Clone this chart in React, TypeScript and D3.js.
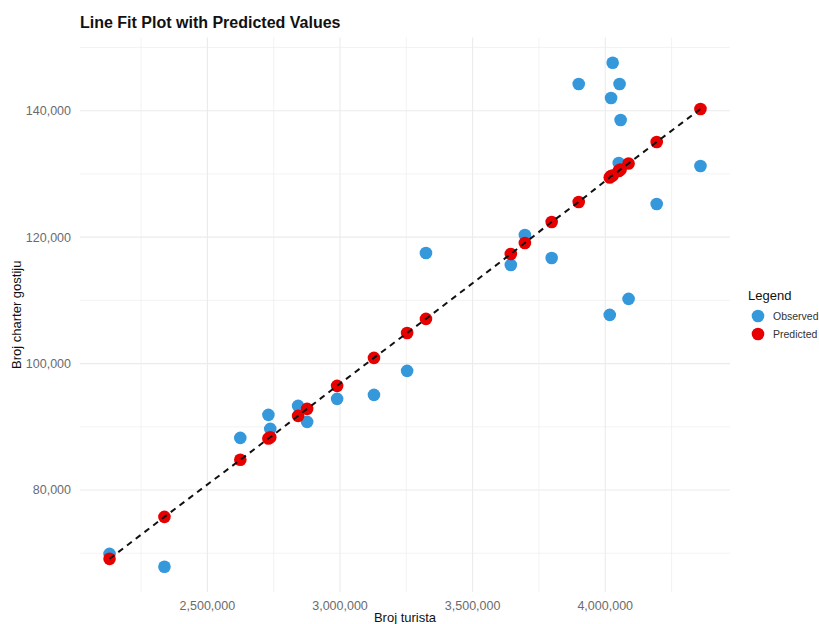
import * as React from 'react';
import * as d3 from 'd3';

// Broj turista (x) with observed and predicted charter guests
const turisti = [
  2131000, 2338000, 2624000, 2730000, 2737000, 2842000, 2876000, 2989000,
  3128000, 3253000, 3324000, 3644000, 3697000, 3798000, 3900000, 4017000,
  4022000, 4028000, 4051000, 4054000, 4058000, 4088000, 4194000, 4359000,
];
const observed = [
  69900, 67860, 88250, 91890, 89680, 93310, 90780, 94420,
  95050, 98850, 117500, 115600, 120350, 116710, 144220, 107700,
  142010, 147590, 131730, 144220, 138530, 110230, 125250, 131260,
];
const predicted = [
  69120, 75760, 84780, 88150, 88350, 91730, 92840, 96480,
  100900, 104850, 107070, 117340, 119080, 122400, 125570, 129440,
  129680, 129750, 130470, 130620, 130700, 131650, 135050, 140270,
];
const xTicks = [2500000, 3000000, 3500000, 4000000];
const xMinor = [2250000, 2750000, 3250000, 3750000, 4250000];
const yTicks = [80000, 100000, 120000, 140000];
const yMinor = [70000, 90000, 110000, 130000, 150000];

const W = 819;
const H = 624;
const panel = {left: 80, right: 730, top: 37.5, bottom: 592};
const font = '"Liberation Sans", Arial, sans-serif';
const blue = '#3498db';
const red = '#e60000';

function expand([lo, hi]: number[]) {
  const pad = (hi - lo) * 0.05;
  return [lo - pad, hi + pad];
}

export default function App() {
  const fmt = d3.format(',');
  const x = d3.scaleLinear()
    .domain(expand(d3.extent(turisti) as number[]))
    .range([panel.left, panel.right]);
  const y = d3.scaleLinear()
    .domain(expand(d3.extent([...observed, ...predicted]) as number[]))
    .range([panel.bottom, panel.top]);

  const pts = turisti.map((t, i) => ({t, obs: observed[i], pred: predicted[i]}));
  const line = d3.line<{t: number; pred: number}>()
    .x(d => x(d.t))
    .y(d => y(d.pred));

  return (
    <svg width={W} height={H} style={{position: 'absolute', left: 0, top: 0, background: '#fff'}}
      fontFamily={font}>
      <rect width={W} height={H} fill="#fff" />
      <g>
        {xMinor.map(v => (
          <line key={'xm' + v} x1={x(v)} x2={x(v)} y1={panel.top} y2={panel.bottom}
            stroke="#ebebeb" strokeWidth={0.6} />
        ))}
        {yMinor.map(v => (
          <line key={'ym' + v} x1={panel.left} x2={panel.right} y1={y(v)} y2={y(v)}
            stroke="#ebebeb" strokeWidth={0.6} />
        ))}
        {xTicks.map(v => (
          <line key={'x' + v} x1={x(v)} x2={x(v)} y1={panel.top} y2={panel.bottom}
            stroke="#ebebeb" strokeWidth={1.1} />
        ))}
        {yTicks.map(v => (
          <line key={'y' + v} x1={panel.left} x2={panel.right} y1={y(v)} y2={y(v)}
            stroke="#ebebeb" strokeWidth={1.1} />
        ))}
      </g>
      <g>
        {pts.map((d, i) => (
          <circle key={'o' + i} cx={x(d.t)} cy={y(d.obs)} r={6.3} fill={blue} />
        ))}
        {pts.map((d, i) => (
          <circle key={'p' + i} cx={x(d.t)} cy={y(d.pred)} r={6.3} fill={red} />
        ))}
        <path d={line(pts) || ''} fill="none" stroke="#111" strokeWidth={2}
          strokeDasharray="6,5" />
      </g>
      <g fill="#6b6b6b" fontSize={12.5}>
        {xTicks.map(v => (
          <text key={'xt' + v} x={x(v)} y={610} textAnchor="middle">{fmt(v)}</text>
        ))}
        {yTicks.map(v => (
          <text key={'yt' + v} x={71} y={y(v)} dy="0.35em" textAnchor="end">{fmt(v)}</text>
        ))}
      </g>
      <text x={(panel.left + panel.right) / 2} y={622} textAnchor="middle" fontSize={13}
        fill="#111">Broj turista</text>
      <text transform={`translate(21,${(panel.top + panel.bottom) / 2}) rotate(-90)`}
        textAnchor="middle" fontSize={13} fill="#111">Broj charter gostiju</text>
      <text x={80} y={28} fontSize={16} fontWeight="bold" fill="#111">
        Line Fit Plot with Predicted Values
      </text>
      <g>
        <text x={748} y={300} fontSize={13} fill="#111">Legend</text>
        <circle cx={758} cy={316} r={6.3} fill={blue} />
        <text x={773} y={316} dy="0.35em" fontSize={10.5} fill="#333">Observed</text>
        <circle cx={758} cy={334} r={6.3} fill={red} />
        <text x={773} y={334} dy="0.35em" fontSize={10.5} fill="#333">Predicted</text>
      </g>
    </svg>
  );
}
